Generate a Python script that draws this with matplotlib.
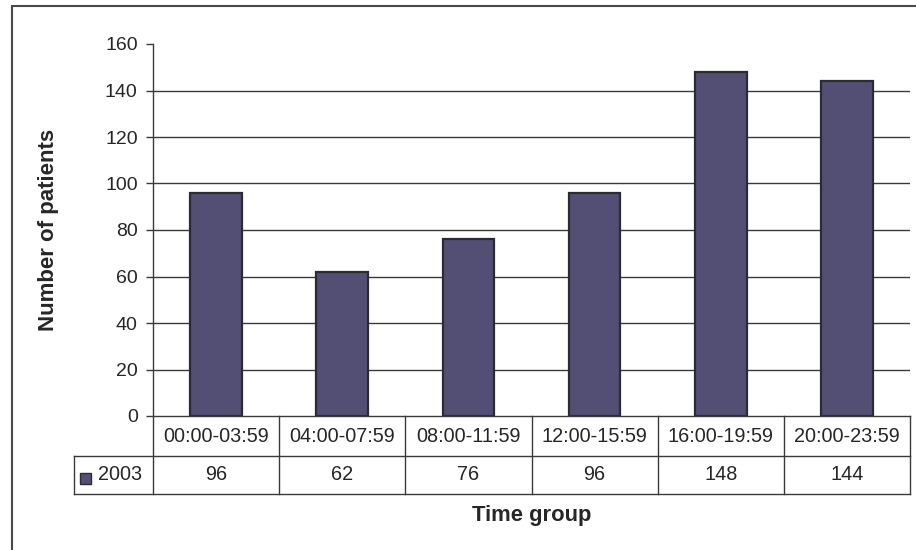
import matplotlib.pyplot as plt
from matplotlib.lines import Line2D
from matplotlib.patches import Rectangle

plt.rcParams['font.family'] = ['Liberation Sans', 'DejaVu Sans']

time_groups = ['00:00-03:59', '04:00-07:59', '08:00-11:59',
               '12:00-15:59', '16:00-19:59', '20:00-23:59']
patients_2003 = [96, 62, 76, 96, 148, 144]
series_name = '2003'

bar_color = '#534e73'
line_color = '#3a3a3a'
text_color = '#262626'

W, H = 916, 550
fig = plt.figure(figsize=(W / 100, H / 100), dpi=100)

# plot area in pixel terms
left, right, top, bottom = 153, 910, 44, 416
ax = fig.add_axes([left / W, 1 - bottom / H, (right - left) / W, (bottom - top) / H])

x = range(len(time_groups))
ax.bar(x, patients_2003, width=0.41, color=bar_color,
       edgecolor='#2b2b35', linewidth=1.6, zorder=3)

ax.set_xlim(-0.5, len(time_groups) - 0.5)
ax.set_ylim(0, 160)
ax.set_yticks(range(0, 161, 20))
ax.tick_params(axis='y', labelsize=14, colors=line_color, labelcolor=text_color,
               length=5, width=1, pad=6)
ax.set_xticks([])
for v in range(20, 160, 20):
    ax.axhline(v, color=line_color, linewidth=1, zorder=1)

for s in ['top', 'right', 'bottom']:
    ax.spines[s].set_visible(False)
ax.spines['left'].set_color(line_color)
ax.spines['left'].set_linewidth(1)

# data table under the axis, drawn in figure pixels
def fx(px):
    return px / W

def fy(py):
    return 1 - py / H

fig.text(fx(49), fy((top + bottom) / 2), 'Number of patients', rotation=90,
         ha='center', va='center', fontsize=16, fontweight='bold', color=text_color)

row1_top, row1_bot, row2_bot = 416, 456, 494
label_left = 74
cell_w = (right - left) / len(time_groups)

def hline(y, x0, x1):
    fig.add_artist(Line2D([fx(x0), fx(x1)], [fy(y), fy(y)],
                          color=line_color, linewidth=1))

def vline(xp, y0, y1):
    fig.add_artist(Line2D([fx(xp), fx(xp)], [fy(y0), fy(y1)],
                          color=line_color, linewidth=1))

hline(row1_top, left, right)
hline(row1_bot, label_left, right)
hline(row2_bot, label_left, right)
vline(label_left, row1_bot, row2_bot)
for i in range(len(time_groups) + 1):
    vline(left + i * cell_w, row1_top, row2_bot)

for i, (g, v) in enumerate(zip(time_groups, patients_2003)):
    cx = left + (i + 0.5) * cell_w
    fig.text(fx(cx), fy((row1_top + row1_bot) / 2), g, ha='center', va='center',
             fontsize=14.3, color=text_color)
    fig.text(fx(cx), fy((row1_bot + row2_bot) / 2), str(v), ha='center', va='center',
             fontsize=14.3, color=text_color)

# legend key for the series row
fig.add_artist(Rectangle((fx(80), fy(484)), 11 / W, 11 / H, facecolor=bar_color,
                         edgecolor='#2b2b35', linewidth=1))
fig.text(fx(98), fy((row1_bot + row2_bot) / 2), series_name, ha='left', va='center',
         fontsize=14.3, color=text_color)

fig.text(fx((left + right) / 2), fy(515), 'Time group', ha='center', va='center',
         fontsize=15.8, fontweight='bold', color=text_color)

# chart frame
fig.add_artist(Rectangle((fx(12), fy(560)), (W + 20) / W, 554 / H, fill=False,
                         edgecolor='#4a4a4a', linewidth=1.5))

fig.savefig('out.png', dpi=100)
